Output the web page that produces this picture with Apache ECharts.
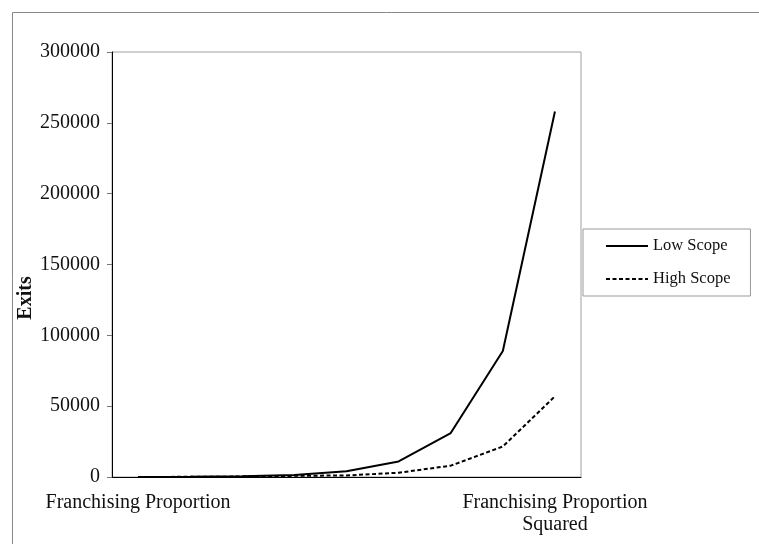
<!DOCTYPE html>
<html>
<head>
<meta charset="utf-8">
<script src="https://cdn.jsdelivr.net/npm/echarts@6/dist/echarts.min.js"></script>
<style>
html,body{margin:0;padding:0;background:#fff;}
#chart{width:759px;height:544px;}
</style>
</head>
<body>
<div id="chart"></div>
<script>
// Data
var categories = ["Franchising Proportion", "", "", "", "", "", "", "", "Franchising Proportion\nSquared"];
var lowScope  = [60, 180, 500, 1400, 4000, 11000, 31000, 89000, 258000];
var highScope = [40, 110, 300, 800, 1100, 3000, 8000, 21500, 57000];
var yMin = 0, yMax = 300000, yInterval = 50000;
var yAxisTitle = "Exits";
var seriesNames = ["Low Scope", "High Scope"];

var FONT = "'Liberation Serif', 'Times New Roman', serif";
var chart = echarts.init(document.getElementById('chart'), null, {renderer: 'canvas'});
chart.setOption({
  backgroundColor: '#fff',
  animation: false,
  grid: {
    left: 112, right: 178, top: 52, bottom: 67,
    show: true, borderColor: '#a0a0a0', borderWidth: 1, backgroundColor: 'transparent'
  },
  legend: {
    orient: 'vertical',
    left: 583, top: 229,
    padding: [7.5, 20, 7.5, 22],
    itemGap: 14,
    itemWidth: 42, itemHeight: 19,
    itemTextGap: 5,
    borderColor: '#999', borderWidth: 1,
    itemStyle: {opacity: 0},
    lineStyle: {width: 2, opacity: 1},
    textStyle: {fontFamily: FONT, fontSize: 16.5, color: '#111', lineHeight: 19},
    data: seriesNames
  },
  xAxis: {
    type: 'category',
    data: categories,
    boundaryGap: true,
    axisLine: {lineStyle: {color: '#000', width: 1}},
    axisTick: {show: false},
    axisLabel: {
      interval: 0, margin: 15, hideOverlap: false,
      fontFamily: FONT, fontSize: 20, color: '#111', lineHeight: 22, align: 'center'
    },
    splitLine: {show: false}
  },
  yAxis: {
    type: 'value',
    min: yMin, max: yMax, interval: yInterval,
    axisLine: {show: true, lineStyle: {color: '#000', width: 1}},
    axisTick: {show: true, length: 5, lineStyle: {color: '#777'}},
    axisLabel: {margin: 12, fontFamily: FONT, fontSize: 20, color: '#111',
      formatter: function (v) { return String(v); }},
    splitLine: {show: false}
  },
  graphic: [
    {
      type: 'rect', silent: true, z: -1,
      shape: {x: 12.5, y: 12.5, width: 800, height: 600},
      style: {fill: 'none', stroke: '#888', lineWidth: 1}
    },
    {
      type: 'text', x: 26, y: 298, rotation: Math.PI / 2,
      style: {
        text: yAxisTitle, fontFamily: FONT, fontSize: 20, fontWeight: 'bold',
        fill: '#111', align: 'center', verticalAlign: 'middle'
      }
    }
  ],
  series: [
    {
      name: seriesNames[0], type: 'line', data: lowScope,
      symbol: 'none', smooth: false,
      lineStyle: {color: '#000', width: 2, type: 'solid'},
      itemStyle: {color: '#000'}
    },
    {
      name: seriesNames[1], type: 'line', data: highScope,
      symbol: 'none', smooth: false,
      lineStyle: {color: '#000', width: 2, type: [4, 2.5]},
      itemStyle: {color: '#000'}
    }
  ]
});
</script>
</body>
</html>
